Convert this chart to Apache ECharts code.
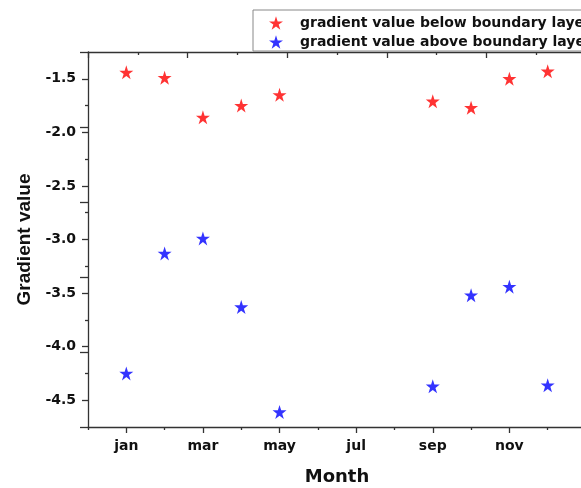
<!DOCTYPE html>
<html>
<head>
<meta charset="utf-8">
<script src="https://cdn.jsdelivr.net/npm/echarts@6/dist/echarts.min.js"></script>
<style>
  html, body { margin: 0; padding: 0; background: #fff; }
  #chart { width: 581px; height: 488px; }
</style>
</head>
<body>
<div id="chart"></div>
<script>
// Month positions (jan = 1 ... dec = 12)
const months = [1, 2, 3, 4, 5, 9, 10, 11, 12];
const monthLabels = { 1: 'jan', 3: 'mar', 5: 'may', 7: 'jul', 9: 'sep', 11: 'nov' };
const belowLayer = [-1.44, -1.49, -1.86, -1.75, -1.65, -1.71, -1.77, -1.50, -1.43];
const aboveLayer = [-4.25, -3.13, -2.99, -3.63, -4.61, -4.37, -3.52, -3.44, -4.36];
const yMajorTicks = [-4.5, -4.0, -3.5, -3.0, -2.5, -2.0, -1.5];
const yMinorTicks = [-4.25, -3.75, -3.25, -2.75, -2.25, -1.75];
const xMajorTicks = [1, 3, 5, 7, 9, 11];
const xMinorTicks = [0, 2, 4, 6, 8, 10, 12];

const STAR = 'path://M50,0 L61.2,34.5 L97.6,34.5 L68.2,55.9 L79.4,90.5 L50,69.1 L20.6,90.5 L31.8,55.9 L2.4,34.5 L38.8,34.5 Z';
const WIDE = '"DejaVu Sans", Verdana, sans-serif';
const FONT = '"Liberation Sans", Arial, sans-serif';
const AXIS = '#333';
const TICK = { color: AXIS, width: 1.3 };

const chart = echarts.init(document.getElementById('chart'), null, { renderer: 'canvas' });

const pairs = (vals) => months.map((m, i) => [m, vals[i]]);

chart.setOption({
  animation: false,
  backgroundColor: '#fff',
  grid: { left: 88, top: 52, right: -5, height: 375, containLabel: false, outerBoundsMode: 'none' },
  legend: {
    orient: 'vertical',
    left: 253,
    top: 10,
    padding: [6, 40, 2, 16],
    itemGap: 5,
    itemWidth: 14,
    itemHeight: 14,
    borderColor: '#888',
    borderWidth: 1,
    textStyle: { fontFamily: WIDE, fontWeight: 'bold', fontSize: 14, color: '#111', padding: [0, 0, 0, 12] },
    data: [
      { name: 'gradient value below boundary layer', icon: STAR },
      { name: 'gradient value above boundary layer', icon: STAR }
    ]
  },
  xAxis: [
    {
      type: 'value', min: 0, max: 13, position: 'bottom',
      name: 'Month', nameLocation: 'middle', nameGap: 41,
      nameTextStyle: { fontFamily: WIDE, fontWeight: 'bold', fontSize: 18, color: '#111' },
      axisLine: { show: true, lineStyle: TICK },
      axisTick: { show: true, customValues: xMajorTicks, length: 6, lineStyle: TICK },
      axisLabel: {
        customValues: xMajorTicks, margin: 12,
        formatter: (v) => monthLabels[v] || '',
        fontFamily: WIDE, fontWeight: 'bold', fontSize: 14, color: '#111'
      },
      splitLine: { show: false }
    },
    {
      type: 'value', min: 0, max: 13, position: 'bottom',
      axisLine: { show: false },
      axisTick: { show: true, customValues: xMinorTicks, length: 3, lineStyle: TICK },
      axisLabel: { show: false },
      splitLine: { show: false }
    },
    {
      type: 'value', min: 0, max: 5, interval: 1, position: 'top',
      axisLine: { show: true, lineStyle: TICK },
      axisTick: { show: true, inside: true, length: 6, lineStyle: TICK },
      minorTick: { show: true, splitNumber: 2, length: 3, lineStyle: TICK },
      axisLabel: { show: false },
      splitLine: { show: false }
    }
  ],
  yAxis: [
    {
      type: 'value', min: -4.75, max: -1.25, position: 'left',
      name: 'Gradient value', nameLocation: 'middle', nameGap: 52,
      nameTextStyle: { fontFamily: FONT, fontWeight: 'bold', fontSize: 19, color: '#111' },
      axisLine: { show: true, lineStyle: TICK },
      axisTick: { show: true, customValues: yMajorTicks, length: 6, lineStyle: TICK },
      axisLabel: {
        customValues: yMajorTicks, margin: 12,
        formatter: (v) => v.toFixed(1),
        fontFamily: WIDE, fontWeight: 'bold', fontSize: 14, color: '#111'
      },
      splitLine: { show: false }
    },
    {
      type: 'value', min: -4.75, max: -1.25, position: 'left',
      axisLine: { show: false },
      axisTick: { show: true, customValues: yMinorTicks, length: 3, lineStyle: TICK },
      axisLabel: { show: false },
      splitLine: { show: false }
    },
    {
      type: 'value', min: 0, max: 5, interval: 1, position: 'right',
      axisLine: { show: false },
      axisTick: { show: true, inside: true, length: 8, lineStyle: TICK },
      axisLabel: { show: false },
      splitLine: { show: false }
    }
  ],
  series: [
    {
      name: 'gradient value below boundary layer',
      type: 'scatter', xAxisIndex: 0, yAxisIndex: 0,
      symbol: STAR, symbolSize: 14,
      itemStyle: { color: '#ff0000' },
      data: pairs(belowLayer)
    },
    {
      name: 'gradient value above boundary layer',
      type: 'scatter', xAxisIndex: 0, yAxisIndex: 0,
      symbol: STAR, symbolSize: 14,
      itemStyle: { color: '#0000ff' },
      data: pairs(aboveLayer)
    }
  ]
});
</script>
</body>
</html>
